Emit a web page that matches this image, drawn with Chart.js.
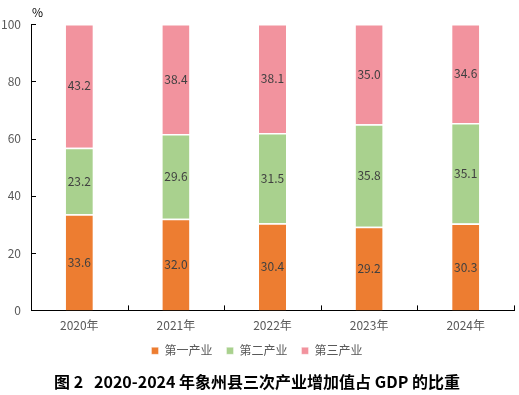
<!DOCTYPE html>
<html>
<head>
<meta charset="utf-8">
<script src="https://cdn.jsdelivr.net/npm/chart.js@4.4.0/dist/chart.umd.min.js"></script>
<style>
  html, body { margin: 0; padding: 0; background: #fff; }
  #wrap { width: 519px; height: 395px; position: relative; }
</style>
</head>
<body>
<div id="wrap"><canvas id="gdpChart"></canvas></div>
<script>
var years = ['2020年', '2021年', '2022年', '2023年', '2024年'];
var primary = [33.6, 32.0, 30.4, 29.2, 30.3];
var secondary = [23.2, 29.6, 31.5, 35.8, 35.1];
var tertiary = [43.2, 38.4, 38.1, 35.0, 34.6];
var yTicks = [0, 20, 40, 60, 80, 100];

var font = '"Noto Sans CJK SC", "Noto Sans", sans-serif';

// inward tick marks, value labels, and the % unit
var decorPlugin = {
	id: 'decor',
	afterDatasetsDraw: function(chart) {
		var ctx = chart.ctx;
		ctx.save();
		ctx.font = '12px ' + font;
		ctx.fillStyle = '#404040';
		ctx.textAlign = 'center';
		ctx.textBaseline = 'middle';
		chart.data.datasets.forEach(function(ds, i) {
			var meta = chart.getDatasetMeta(i);
			meta.data.forEach(function(bar, j) {
				ctx.fillText(ds.data[j].toFixed(1), bar.x, (bar.y + bar.base) / 2);
			});
		});
		ctx.restore();
	},
	afterDraw: function(chart) {
		var ctx = chart.ctx;
		var xs = chart.scales.x, ys = chart.scales.y;
		ctx.save();
		ctx.strokeStyle = '#000';
		ctx.lineWidth = 1;
		ctx.beginPath();
		yTicks.forEach(function(v) {
			var py = Math.round(ys.getPixelForValue(v)) + 0.5;
			ctx.moveTo(xs.left, py);
			ctx.lineTo(xs.left + 5, py);
		});
		for (var k = 0; k <= years.length; k++) {
			var px = Math.round(xs.getPixelForValue(k - 0.5)) + 0.5;
			ctx.moveTo(px, ys.bottom);
			ctx.lineTo(px, ys.bottom - 5);
		}
		ctx.stroke();
		ctx.font = '12px ' + font;
		ctx.fillStyle = '#000';
		ctx.textAlign = 'left';
		ctx.textBaseline = 'middle';
		ctx.fillText('%', xs.left + 1, 12);
		ctx.restore();
	}
};

var ctx = document.getElementById('gdpChart');
var gdpChart = new Chart(ctx, {
	type: 'bar',
	data: {
		labels: years,
		datasets: [
			{ label: '第一产业', data: primary, backgroundColor: '#ED7D31' },
			{ label: '第二产业', data: secondary, backgroundColor: '#A9D18E' },
			{ label: '第三产业', data: tertiary, backgroundColor: '#F2939E' }
		]
	},
	options: {
		responsive: true,
		maintainAspectRatio: false,
		animation: false,
		layout: { padding: { top: 24, right: 5, left: 0, bottom: 3 } },
		datasets: {
			bar: {
				barPercentage: 0.28,
				categoryPercentage: 1,
				borderColor: '#fff',
				borderWidth: { top: 1.5, bottom: 0, left: 0, right: 0 },
				borderSkipped: false
			}
		},
		scales: {
			x: {
				stacked: true,
				afterFit: function(scale) { scale.height = scale.height - 10; },
				grid: { display: false, drawTicks: false },
				border: { display: true, color: '#000', width: 1 },
				ticks: { color: '#595959', font: { family: font, size: 12 }, padding: 8 }
			},
			y: {
				stacked: true,
				min: 0,
				max: 100,
				afterFit: function(scale) { scale.width = 31; },
				grid: { display: false, drawTicks: false },
				border: { display: true, color: '#000', width: 1 },
				ticks: { stepSize: 20, color: '#595959', font: { family: font, size: 12 }, padding: 10 }
			}
		},
		plugins: {
			tooltip: { enabled: false },
			legend: {
				position: 'bottom',
				labels: {
					boxWidth: 7,
					boxHeight: 7,
					padding: 14,
					color: '#595959',
					font: { family: font, size: 12 }
				}
			},
			title: {
				display: true,
				position: 'bottom',
				text: '图 2   2020-2024 年象州县三次产业增加值占 GDP 的比重',
				color: '#000',
				font: { family: font, size: 16, weight: 'bold' },
				padding: { top: 6, bottom: 0 }
			}
		}
	},
	plugins: [decorPlugin]
});
</script>
</body>
</html>
